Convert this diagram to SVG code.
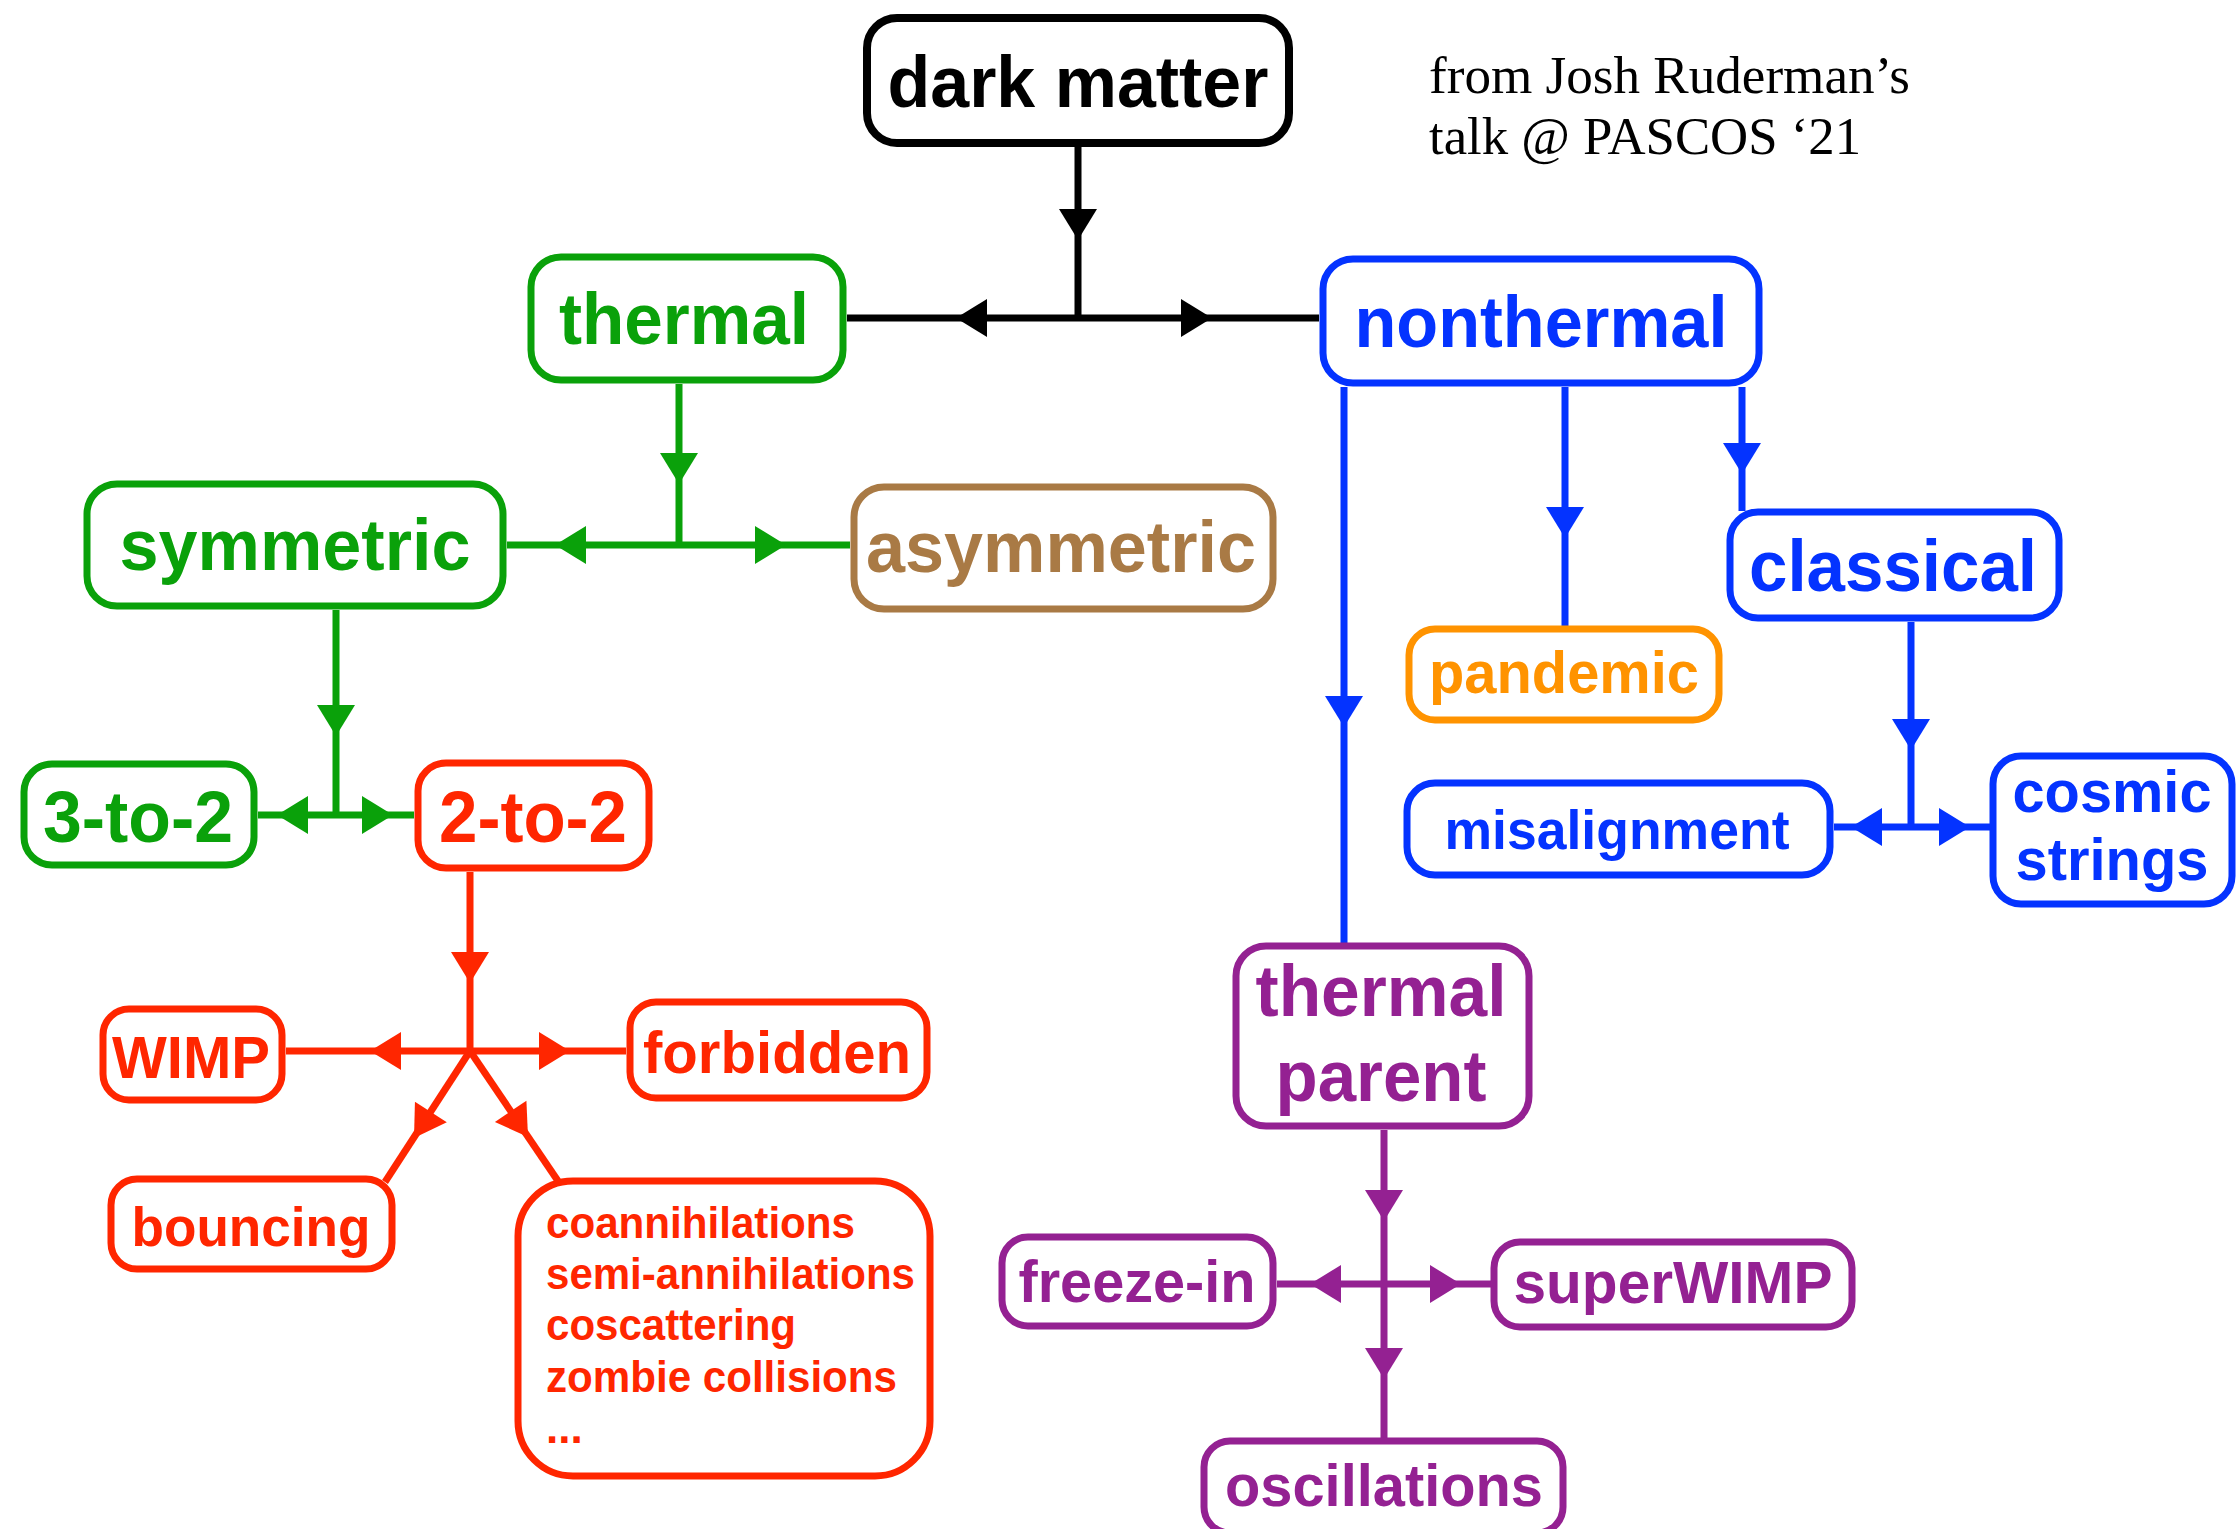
<svg xmlns="http://www.w3.org/2000/svg" xmlns:xlink="http://www.w3.org/1999/xlink" width="2240" height="1529" viewBox="0 0 2240 1529">
<style>
.box{fill:#fff;stroke-width:7}
.lbl{font-family:"Liberation Sans",Arial,Helvetica,sans-serif;font-weight:bold;text-anchor:middle}
.big{font-size:73px}
.mid{font-size:60px}
.sm{font-size:55px}
.xs{font-size:44px;text-anchor:start}
.cite{font-family:"Liberation Serif","Times New Roman",serif;font-size:52px;fill:#000}
.ln{fill:none;stroke-width:7;stroke-linecap:butt}
.k{stroke:#000;fill:#000}
.g{stroke:#0aa10a;fill:#0aa10a}
.r{stroke:#ff2600;fill:#ff2600}
.b{stroke:#0433ff;fill:#0433ff}
.o{stroke:#ff9300;fill:#ff9300}
.p{stroke:#942192;fill:#942192}
.br{stroke:#a97a45;fill:#a97a45}
text.k,text.g,text.r,text.b,text.o,text.p,text.br{stroke:none}
</style>
<defs>
<path id="ah" d="M0,0 L-31,-19 L-31,19 Z" stroke="none"/>
</defs>
<rect width="2240" height="1529" fill="#fff"/>
<g id="connectors">
<g class="k">
<line class="ln k" x1="1078" y1="147" x2="1078" y2="318"/>
<line class="ln k" x1="847" y1="318" x2="1319" y2="318"/>
<use xlink:href="#ah" transform="translate(1078,240) rotate(90)"/>
<use xlink:href="#ah" transform="translate(956,318) rotate(180)"/>
<use xlink:href="#ah" transform="translate(1212,318)"/>
</g>
<g class="g">
<line class="ln g" x1="679" y1="384" x2="679" y2="545"/>
<line class="ln g" x1="507" y1="545" x2="850" y2="545"/>
<use xlink:href="#ah" transform="translate(679,484) rotate(90)"/>
<use xlink:href="#ah" transform="translate(555,545) rotate(180)"/>
<use xlink:href="#ah" transform="translate(786,545)"/>
<line class="ln g" x1="336" y1="610" x2="336" y2="815"/>
<line class="ln g" x1="258" y1="815" x2="414" y2="815"/>
<use xlink:href="#ah" transform="translate(336,736) rotate(90)"/>
<use xlink:href="#ah" transform="translate(277,815) rotate(180)"/>
<use xlink:href="#ah" transform="translate(393,815)"/>
</g>
<g class="r">
<line class="ln r" x1="470" y1="872" x2="470" y2="1051"/>
<line class="ln r" x1="286" y1="1051" x2="626" y2="1051"/>
<line class="ln r" x1="470" y1="1051" x2="385" y2="1182"/>
<line class="ln r" x1="470" y1="1051" x2="558" y2="1181"/>
<use xlink:href="#ah" transform="translate(470,983) rotate(90)"/>
<use xlink:href="#ah" transform="translate(370,1051) rotate(180)"/>
<use xlink:href="#ah" transform="translate(570,1051)"/>
<use xlink:href="#ah" transform="translate(414,1138) rotate(123)"/>
<use xlink:href="#ah" transform="translate(528,1137) rotate(56)"/>
</g>
<g class="b">
<line class="ln b" x1="1344" y1="387" x2="1344" y2="944"/>
<line class="ln b" x1="1565" y1="387" x2="1565" y2="627"/>
<line class="ln b" x1="1742" y1="387" x2="1742" y2="511"/>
<use xlink:href="#ah" transform="translate(1344,727) rotate(90)"/>
<use xlink:href="#ah" transform="translate(1565,538) rotate(90)"/>
<use xlink:href="#ah" transform="translate(1742,474) rotate(90)"/>
<line class="ln b" x1="1911" y1="622" x2="1911" y2="827"/>
<line class="ln b" x1="1834" y1="827" x2="1990" y2="827"/>
<use xlink:href="#ah" transform="translate(1911,750) rotate(90)"/>
<use xlink:href="#ah" transform="translate(1851,827) rotate(180)"/>
<use xlink:href="#ah" transform="translate(1970,827)"/>
</g>
<g class="p">
<line class="ln p" x1="1384" y1="1130" x2="1384" y2="1438"/>
<line class="ln p" x1="1277" y1="1284" x2="1491" y2="1284"/>
<use xlink:href="#ah" transform="translate(1384,1221) rotate(90)"/>
<use xlink:href="#ah" transform="translate(1384,1379) rotate(90)"/>
<use xlink:href="#ah" transform="translate(1310,1284) rotate(180)"/>
<use xlink:href="#ah" transform="translate(1461,1284)"/>
</g>
</g>
<g id="n-dark-matter"><rect class="box" x="867" y="18" width="422" height="125" rx="30" stroke="#000" style="stroke-width:8"/><text class="lbl big" x="1078" y="107" textLength="381" lengthAdjust="spacingAndGlyphs">dark matter</text></g>
<g id="n-thermal"><rect class="box" x="531" y="257" width="312" height="123" rx="30" stroke="#0aa10a"/><text class="lbl big g" x="684" y="344" textLength="250" lengthAdjust="spacingAndGlyphs">thermal</text></g>
<g id="n-nonthermal"><rect class="box" x="1323" y="259" width="436" height="124" rx="30" stroke="#0433ff"/><text class="lbl big b" x="1541" y="347" textLength="373" lengthAdjust="spacingAndGlyphs">nonthermal</text></g>
<g id="n-symmetric"><rect class="box" x="87" y="484" width="416" height="122" rx="30" stroke="#0aa10a"/><text class="lbl big g" x="295" y="570" textLength="351" lengthAdjust="spacingAndGlyphs">symmetric</text></g>
<g id="n-asymmetric"><rect class="box" x="854" y="487" width="419" height="122" rx="30" stroke="#a97a45"/><text class="lbl big br" x="1061" y="572" textLength="390" lengthAdjust="spacingAndGlyphs">asymmetric</text></g>
<g id="n-3to2"><rect class="box" x="24" y="764" width="230" height="101" rx="28" stroke="#0aa10a"/><text class="lbl big g" x="138" y="842" textLength="190" lengthAdjust="spacingAndGlyphs">3-to-2</text></g>
<g id="n-2to2"><rect class="box" x="418" y="763" width="231" height="105" rx="28" stroke="#ff2600"/><text class="lbl big r" x="533" y="842" textLength="188" lengthAdjust="spacingAndGlyphs">2-to-2</text></g>
<g id="n-wimp"><rect class="box" x="103" y="1009" width="179" height="91" rx="26" stroke="#ff2600"/><text class="lbl mid r" x="191" y="1078" textLength="158" lengthAdjust="spacingAndGlyphs">WIMP</text></g>
<g id="n-forbidden"><rect class="box" x="630" y="1002" width="297" height="96" rx="26" stroke="#ff2600"/><text class="lbl mid r" x="777" y="1073" textLength="268" lengthAdjust="spacingAndGlyphs">forbidden</text></g>
<g id="n-bouncing"><rect class="box" x="111" y="1179" width="281" height="90" rx="26" stroke="#ff2600"/><text class="lbl sm r" x="251" y="1246" textLength="239" lengthAdjust="spacingAndGlyphs">bouncing</text></g>
<g id="n-other"><rect class="box" x="518" y="1181" width="412" height="295" rx="55" stroke="#ff2600"/>
<text class="lbl xs r" x="546" y="1238" textLength="309" lengthAdjust="spacingAndGlyphs">coannihilations</text>
<text class="lbl xs r" x="546" y="1289" textLength="369" lengthAdjust="spacingAndGlyphs">semi-annihilations</text>
<text class="lbl xs r" x="546" y="1340" textLength="250" lengthAdjust="spacingAndGlyphs">coscattering</text>
<text class="lbl xs r" x="546" y="1392" textLength="351" lengthAdjust="spacingAndGlyphs">zombie collisions</text>
<text class="lbl xs r" x="546" y="1443">...</text></g>
<g id="n-pandemic"><rect class="box" x="1409" y="629" width="310" height="91" rx="26" stroke="#ff9300"/><text class="lbl mid o" x="1564" y="693" textLength="270" lengthAdjust="spacingAndGlyphs">pandemic</text></g>
<g id="n-classical"><rect class="box" x="1730" y="512" width="329" height="106" rx="28" stroke="#0433ff"/><text class="lbl big b" x="1893" y="591" textLength="288" lengthAdjust="spacingAndGlyphs">classical</text></g>
<g id="n-misalignment"><rect class="box" x="1407" y="783" width="423" height="92" rx="28" stroke="#0433ff"/><text class="lbl sm b" x="1617" y="849" textLength="345" lengthAdjust="spacingAndGlyphs">misalignment</text></g>
<g id="n-cosmic-strings"><rect class="box" x="1993" y="756" width="239" height="148" rx="28" stroke="#0433ff"/><text class="lbl mid b" x="2112" y="812" textLength="199" lengthAdjust="spacingAndGlyphs">cosmic</text><text class="lbl mid b" x="2112" y="880" textLength="193" lengthAdjust="spacingAndGlyphs">strings</text></g>
<g id="n-thermal-parent"><rect class="box" x="1236" y="946" width="293" height="180" rx="30" stroke="#942192"/><text class="lbl big p" x="1381" y="1016" textLength="251" lengthAdjust="spacingAndGlyphs">thermal</text><text class="lbl big p" x="1381" y="1101" textLength="211" lengthAdjust="spacingAndGlyphs">parent</text></g>
<g id="n-freeze-in"><rect class="box" x="1002" y="1237" width="271" height="89" rx="26" stroke="#942192"/><text class="lbl mid p" x="1137" y="1302" textLength="237" lengthAdjust="spacingAndGlyphs">freeze-in</text></g>
<g id="n-superwimp"><rect class="box" x="1494" y="1242" width="358" height="85" rx="26" stroke="#942192"/><text class="lbl mid p" x="1673" y="1303" textLength="319" lengthAdjust="spacingAndGlyphs">superWIMP</text></g>
<g id="n-oscillations"><rect class="box" x="1204" y="1441" width="359" height="92" rx="26" stroke="#942192"/><text class="lbl mid p" x="1384" y="1506" textLength="318" lengthAdjust="spacingAndGlyphs">oscillations</text></g>
<g id="citation"><text class="cite" x="1429" y="93" textLength="481" lengthAdjust="spacingAndGlyphs">from Josh Ruderman’s</text><text class="cite" x="1429" y="154" textLength="432" lengthAdjust="spacingAndGlyphs">talk @ PASCOS ‘21</text></g>
</svg>
